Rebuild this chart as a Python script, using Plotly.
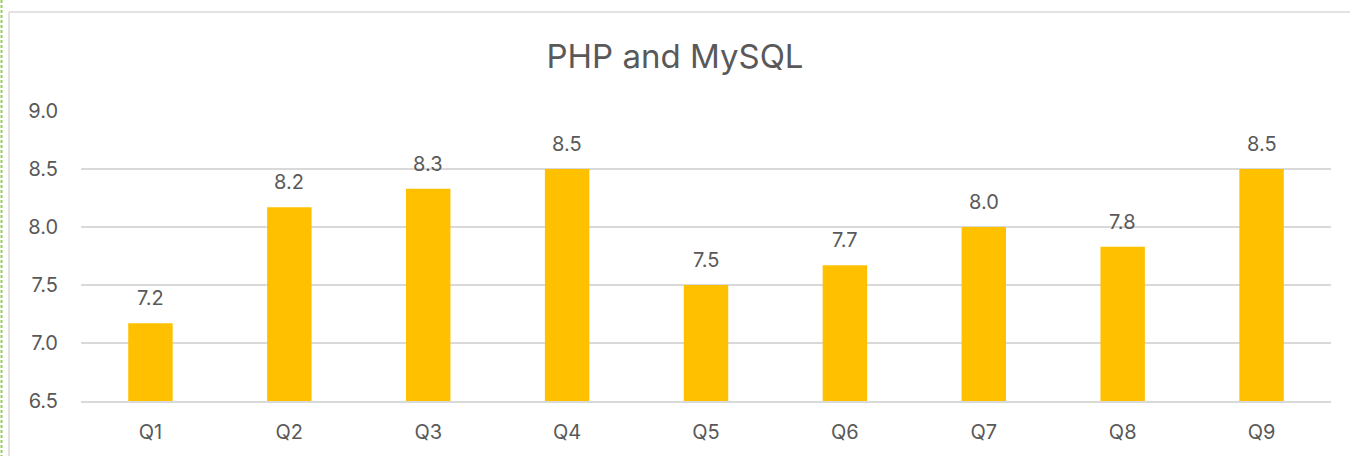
import plotly.graph_objects as go

# Chart data
quarters = ["Q1", "Q2", "Q3", "Q4", "Q5", "Q6", "Q7", "Q8", "Q9"]
scores = [7.17, 8.17, 8.33, 8.5, 7.5, 7.67, 8.0, 7.83, 8.5]
y_ticks = [6.5, 7.0, 7.5, 8.0, 8.5, 9.0]

bar_color = "#FFC000"
grid_color = "#D9D9D9"
text_color = "#595959"
font_family = "Inter, Open Sans, sans-serif"

fig = go.Figure()

fig.add_trace(go.Bar(
    x=quarters,
    y=scores,
    marker=dict(color=bar_color, line=dict(width=0)),
    width=0.32,
    hoverinfo="x+y",
    showlegend=False,
))

# Value labels above the bars
for q, v in zip(quarters, scores):
    fig.add_annotation(
        x=q, y=v, text=f"{v:.1f}",
        showarrow=False, yanchor="bottom", yshift=11,
        font=dict(size=20, color=text_color, family=font_family),
    )

# Chart frame (gray) and dashed green edge on the left
fig.add_shape(type="line", xref="paper", yref="paper",
              x0=-0.0576, x1=1.2, y0=1.341, y1=1.341,
              line=dict(color=grid_color, width=1.5))
fig.add_shape(type="line", xref="paper", yref="paper",
              x0=-0.0576, x1=-0.0576, y0=-0.3, y1=1.341,
              line=dict(color=grid_color, width=1.5))
fig.add_shape(type="line", xref="paper", yref="paper",
              x0=-0.0636, x1=-0.0636, y0=-0.3, y1=1.5,
              line=dict(color="#92D050", width=2, dash="3px,2px"))

fig.update_layout(
    width=1350,
    height=456,
    margin=dict(l=81, r=19, t=111, b=55),
    paper_bgcolor="white",
    plot_bgcolor="white",
    title=dict(
        text="PHP and MySQL",
        x=0.5, xanchor="center",
        y=0.877, yanchor="middle",
        font=dict(size=33, color=text_color, family=font_family),
    ),
    bargap=0.68,
)

fig.update_xaxes(
    showgrid=False,
    zeroline=False,
    showline=True,
    linecolor=grid_color,
    linewidth=1.5,
    tickfont=dict(size=20, color=text_color, family=font_family),
    ticklabelstandoff=12,
)

fig.update_yaxes(
    range=[6.5, 9.0],
    tickvals=y_ticks,
    ticktext=[f"{t:.1f}" for t in y_ticks],
    showgrid=True,
    gridcolor=grid_color,
    gridwidth=1.5,
    zeroline=False,
    tickfont=dict(size=20, color=text_color, family=font_family),
    ticklabelstandoff=22,
)

fig.write_html("out.html", config={"displayModeBar": False},
               post_script="document.body.style.margin='0';")
